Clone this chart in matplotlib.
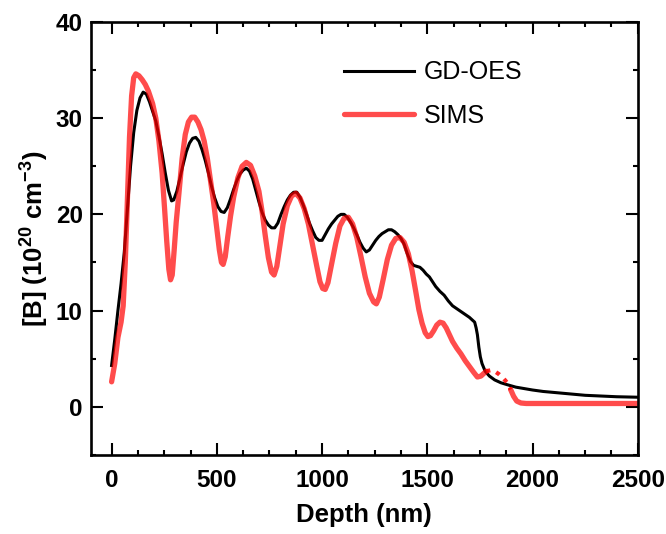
import matplotlib.pyplot as plt
import numpy as np

plt.rcParams['font.family'] = ['Liberation Sans', 'DejaVu Sans']
plt.rcParams['mathtext.fontset'] = 'custom'
plt.rcParams['mathtext.rm'] = 'Liberation Sans'
plt.rcParams['mathtext.bf'] = 'Liberation Sans:bold'

# GD-OES depth profile (nm, 1e20 cm^-3)
gdoes_depth = [0, 15, 30, 45, 60, 75, 90, 105, 120, 135, 150, 165, 180, 195, 210, 225, 240,
               255, 270, 285, 295, 310, 325, 340, 355, 370, 385, 400, 415, 430, 445, 460,
               475, 490, 505, 520, 535, 550, 565, 580, 595, 610, 625, 640, 655, 670, 685,
               700, 715, 730, 745, 760, 775, 790, 805, 820, 835, 850, 865, 880, 895, 910,
               925, 940, 955, 970, 985, 1000, 1015, 1030, 1045, 1060, 1075, 1090, 1105,
               1120, 1135, 1150, 1165, 1180, 1195, 1210, 1225, 1240, 1255, 1270, 1285,
               1300, 1315, 1330, 1345, 1360, 1375, 1390, 1405, 1420, 1435, 1450, 1465,
               1480, 1495, 1510, 1525, 1540, 1560, 1580, 1600, 1620, 1640, 1660, 1680,
               1700, 1715, 1725, 1732, 1738, 1745, 1752, 1760, 1775, 1795, 1820, 1850,
               1880, 1920, 1960, 2000, 2050, 2100, 2150, 2200, 2250, 2300, 2350, 2400,
               2450, 2500]
gdoes_conc = [4.3, 7, 10, 12.8, 16, 20.5, 25, 28.5, 30.8, 32.1, 32.7, 32.5, 31.7, 30.7, 29.7,
              28.1, 26.3, 24.3, 22.5, 21.4, 21.5, 22.4, 23.8, 25.2, 26.5, 27.4, 27.9, 28.0,
              27.6, 26.7, 25.6, 24.3, 22.9, 21.7, 20.8, 20.3, 20.2, 20.7, 21.6, 22.6, 23.5,
              24.2, 24.6, 24.8, 24.5, 23.7, 22.5, 21.3, 20.2, 19.4, 18.9, 18.6, 18.6, 19.1,
              20.0, 20.8, 21.5, 22.0, 22.3, 22.3, 21.8, 21.0, 20.1, 19.1, 18.3, 17.6, 17.3,
              17.3, 17.9, 18.5, 19.0, 19.4, 19.8, 20.0, 20.0, 19.7, 19.2, 18.6, 17.9, 17.1,
              16.5, 16.1, 16.3, 16.8, 17.3, 17.7, 18.0, 18.2, 18.4, 18.4, 18.2, 17.9, 17.5,
              16.9, 15.9, 15.1, 14.7, 14.6, 14.5, 14.2, 13.8, 13.5, 13.0, 12.5, 12.0, 11.6,
              11.0, 10.5, 10.2, 9.9, 9.6, 9.3, 9.0, 8.8, 8.2, 7.5, 6.2, 5.2, 4.5, 3.7, 3.2,
              2.8, 2.5, 2.3, 2.05, 1.9, 1.75, 1.6, 1.5, 1.4, 1.3, 1.2, 1.15, 1.1, 1.05,
              1.02, 1.0]

# SIMS depth profile
sims_depth = [0, 15, 30, 45, 55, 65, 75, 85, 95, 105, 115, 130, 145, 160, 175, 195, 210, 225,
              240, 252, 262, 272, 280, 288, 297, 307, 320, 335, 350, 365, 380, 395, 410,
              425, 440, 455, 470, 485, 500, 512, 522, 530, 540, 552, 565, 580, 600, 620,
              640, 660, 680, 700, 715, 730, 745, 760, 772, 785, 800, 815, 835, 855, 875,
              895, 915, 935, 955, 975, 990, 1003, 1015, 1028, 1045, 1065, 1085, 1105, 1125,
              1145, 1165, 1185, 1205, 1225, 1245, 1258, 1272, 1290, 1310, 1330, 1350, 1370,
              1390, 1410, 1428, 1445, 1460, 1475, 1490, 1503, 1515, 1530, 1545, 1560, 1575,
              1590, 1605, 1620, 1640, 1660, 1680, 1700, 1720, 1738, 1755, 1770, 1780, 1800,
              1820, 1840, 1860, 1880, 1896, 1910, 1925, 1945, 1970, 2500]
sims_conc = [2.6, 4.5, 7.2, 8.8, 10.5, 15, 21.5, 28, 32.3, 34.2, 34.6, 34.4, 34.0, 33.5, 32.8,
             31.5, 30.0, 27.6, 24.3, 20.5, 17.2, 14.3, 13.2, 13.7, 16.2, 19.2, 22.2, 25.8,
             28.3, 29.6, 30.1, 30.1, 29.6, 28.8, 27.6, 25.8, 23.5, 21.2, 18.5, 16.3, 15.0,
             14.8, 15.6, 17.7, 19.8, 21.8, 23.8, 25.0, 25.4, 25.1, 24.0, 22.4, 20.3, 17.8,
             15.5, 14.0, 13.7, 14.6, 16.8, 19.0, 20.9, 21.9, 22.2, 21.7, 20.6, 19.0, 16.8,
             14.6, 13.0, 12.3, 12.2, 12.9, 14.8, 17.0, 18.8, 19.6, 19.7, 19.0, 17.6, 15.6,
             13.5, 11.8, 10.9, 10.7, 11.4, 13.2, 15.3, 16.8, 17.5, 17.6, 17.1, 15.9, 14.1,
             12.0, 10.1, 8.7, 7.7, 7.3, 7.4, 7.9, 8.5, 8.8, 8.7, 8.2, 7.5, 6.8, 6.1, 5.5,
             4.8, 4.2, 3.6, 3.1, 3.2, 3.5, 3.7, 3.8, 3.7, 3.4, 3.0, 2.5, 1.8, 1.1, 0.6, 0.4,
             0.35, 0.35]
# part of the SIMS trace drawn dotted
dotted_range = (1780, 1896)

sd = np.array(sims_depth)
sc = np.array(sims_conc)
pre = sd <= dotted_range[0]
mid = (sd >= dotted_range[0]) & (sd <= dotted_range[1])
post = sd >= dotted_range[1]

fig = plt.figure(figsize=(6.66, 5.34), dpi=100)
ax = fig.add_axes([0.1366, 0.148, 0.821, 0.811])

ax.plot(gdoes_depth, gdoes_conc, color='black', lw=2.2, label='GD-OES')
ax.plot(sd[pre], sc[pre], color='red', alpha=0.7, lw=3.8, label='SIMS',
        solid_capstyle='round')
ax.plot(sd[mid], sc[mid], color='red', alpha=0.85, lw=3, ls=(0, (1, 1.5)))
ax.plot(sd[post], sc[post], color='red', alpha=0.7, lw=3.8, solid_capstyle='round')

ax.set_xlim(-98, 2500)
ax.set_ylim(-5, 40)
ax.set_xticks([0, 500, 1000, 1500, 2000, 2500])
ax.set_xticks(np.arange(0, 2500, 125), minor=True)
ax.set_yticks([0, 10, 20, 30, 40])
ax.set_yticks(np.arange(-5, 40, 5), minor=True)

ax.tick_params(which='both', direction='in', top=True, right=True, width=1.5)
ax.tick_params(which='major', length=8.5, labelsize=17.5)
ax.tick_params(axis='x', which='major', pad=10)
ax.tick_params(axis='y', which='major', pad=6)
ax.tick_params(which='minor', length=3.8)
for lab in ax.get_xticklabels() + ax.get_yticklabels():
    lab.set_fontweight('bold')
for s in ax.spines.values():
    s.set_linewidth(1.9)

ax.set_xlabel('Depth (nm)', fontsize=18.5, fontweight='bold', labelpad=8)
ax.set_ylabel(r'[B] (10$^{\mathbf{20}}$ cm$^{\mathbf{-3}}$)', fontsize=18.5,
              fontweight='bold', labelpad=4)

leg = ax.legend(loc='upper right', bbox_to_anchor=(0.83, 0.963), frameon=False,
                fontsize=18, handlelength=2.8, handletextpad=0.4, labelspacing=0.78)

fig.savefig('out.png', dpi=100)
